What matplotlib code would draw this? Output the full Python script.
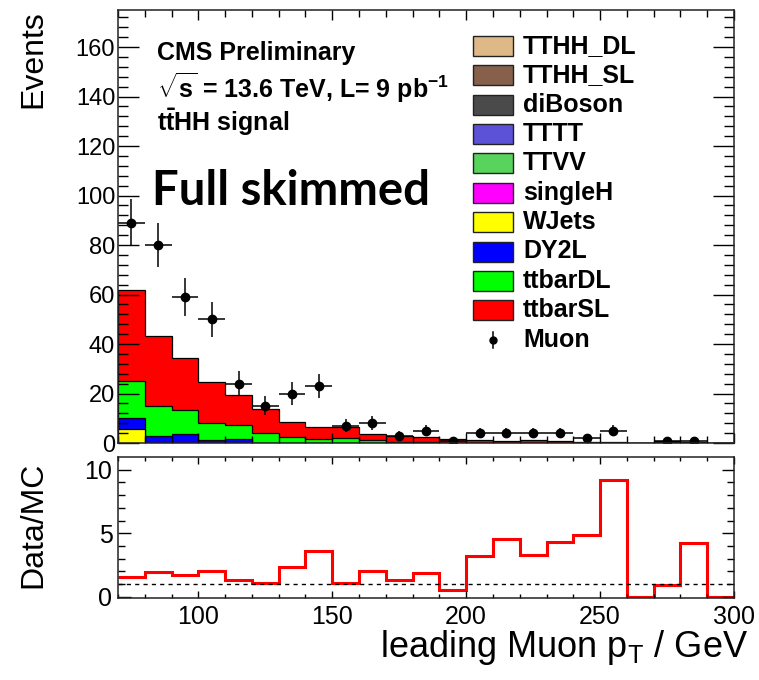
import matplotlib
matplotlib.use('Agg')
import matplotlib.pyplot as plt
import numpy as np
from matplotlib.patches import Rectangle
from matplotlib.lines import Line2D

plt.rcParams['font.family'] = ['Liberation Sans', 'DejaVu Sans']
plt.rcParams['mathtext.fontset'] = 'custom'
plt.rcParams['mathtext.rm'] = 'Liberation Sans'
plt.rcParams['mathtext.bf'] = 'Liberation Sans:bold'
plt.rcParams['mathtext.it'] = 'Liberation Sans:italic'

# leading muon pT bins, 10 GeV wide
bin_edges = list(range(70, 310, 10))
bin_centers = [e + 5 for e in bin_edges[:-1]]

# MC components (bottom -> top of the stack)
wjets = [5.8, 0, 0, 0, 0, 0, 0, 0, 0, 0, 0, 0, 0, 0, 0, 0, 0, 0, 0, 0, 0, 0, 0]
dy2l = [4.4, 2.8, 3.8, 1.3, 1.7, 0.2, 0, 0, 0, 0, 0, 0, 0, 0, 0, 0, 0, 0, 0, 0, 0.6, 0, 0]
ttbardl = [14.9, 12.1, 9.7, 6.9, 5.5, 3.8, 2.6, 1.5, 2.2, 1.1, 0.3, 0.3, 0.2,
           0.1, 0.1, 0.1, 0.1, 0.05, 0.05, 0, 0, 0, 0]
ttbarsl = [36.9, 28.3, 20.9, 16.3, 12.1, 9.6, 5.9, 5.1, 4.1, 2.5, 2.5, 2.3, 1.4,
           1.1, 0.8, 1.1, 0.8, 0.35, 0.45, 0.2, 0.4, 0.25, 0.1]

# data (Muon)
data = [89, 80, 59, 50, 24, 15, 20, 23, 7, 8, 3, 5, 1, 4, 4, 4, 4, 2, 5, 0, 1, 1, 0]

# Data/MC ratio
ratio = [1.56, 1.98, 1.74, 2.05, 1.35, 1.09, 2.37, 3.59, 1.12, 2.05, 1.35, 1.87,
         0.55, 3.17, 4.58, 3.25, 4.34, 4.84, 9.19, 0, 0.96, 4.24, 0]

legend_names = ['TTHH_DL', 'TTHH_SL', 'diBoson', 'TTTT', 'TTVV', 'singleH',
                'WJets', 'DY2L', 'ttbarDL', 'ttbarSL']
legend_colors = ['#deb887', '#86604b', '#4a4a4a', '#5b52d8', '#58d35b', '#ff00ff',
                 '#ffff00', '#0000ff', '#00ff00', '#ff0000']

W, H = 759, 680


def fx(x):
    return x / W


def fy(y):
    return 1 - y / H


fig = plt.figure(figsize=(W / 100, H / 100), dpi=100)
ax1 = fig.add_axes([fx(118), fy(443), fx(616), 433 / H])
ax2 = fig.add_axes([fx(118), fy(598), fx(616), 141 / H])

# stacked histogram, ROOT style: each cumulative drawn over the previous
stack = [wjets, dy2l, ttbardl, ttbarsl]
stack_colors = ['#ffff00', '#0000ff', '#00ff00', '#ff0000']
cum = np.cumsum(np.array(stack), axis=0)
for i in reversed(range(len(stack))):
    ax1.stairs(cum[i], bin_edges, baseline=0, fill=True, facecolor=stack_colors[i],
               linewidth=0)
    ax1.stairs(cum[i], bin_edges, baseline=0, color='black', linewidth=0.9)

d = np.array(data, dtype=float)
mask = d > 0
ax1.errorbar(np.array(bin_centers)[mask], d[mask], yerr=np.sqrt(d[mask]), xerr=5,
             fmt='o', color='black', markersize=6, elinewidth=1.1, capsize=0)

ax1.set_xlim(70, 300)
ax1.set_ylim(0, 175)
ax1.set_yticks(range(0, 161, 20))
ax1.set_yticks(np.arange(0, 176, 4), minor=True)
ax1.set_xticks(range(100, 301, 50))
ax1.set_xticks(range(70, 301, 10), minor=True)
ax1.tick_params(axis='both', which='both', direction='in', top=True, right=True)
ax1.tick_params(axis='y', which='major', length=15, width=1, labelsize=17, pad=2)
ax1.tick_params(axis='y', which='minor', length=7.5, width=1)
ax1.tick_params(axis='x', which='major', length=7, width=1, labelbottom=False)
ax1.tick_params(axis='x', which='minor', length=5, width=1)

# ratio panel
ax2.stairs(ratio, bin_edges, baseline=None, color='#ff0000', linewidth=2.2)
ax2.axhline(1, color='black', linestyle=(0, (3, 3)), linewidth=1)
ax2.set_xlim(70, 300)
ax2.set_ylim(-0.1, 11)
ax2.set_yticks([0, 5, 10])
ax2.set_yticks(range(0, 11), minor=True)
ax2.set_xticks(range(100, 301, 50))
ax2.set_xticks(range(70, 301, 10), minor=True)
ax2.tick_params(axis='both', which='both', direction='in', top=True, right=True)
ax2.tick_params(axis='y', which='major', length=9, width=1, labelsize=18, pad=4)
ax2.tick_params(axis='y', which='minor', length=5, width=1)
ax2.tick_params(axis='x', which='major', length=5, width=1, labelsize=18, pad=5)
ax2.tick_params(axis='x', which='minor', length=3, width=1)

for ax in (ax1, ax2):
    for s in ax.spines.values():
        s.set_linewidth(1.1)
        s.set_color('#222222')

# axis titles
fig.text(fx(33), fy(10), 'Events', rotation=90, ha='center', va='top', fontsize=23)
fig.text(fx(33), fy(525), 'Data/MC', rotation=90, ha='center', va='center', fontsize=23)
fig.text(fx(748), fy(657), r'leading Muon p$_{\mathrm{T}}$ / GeV', ha='right',
         va='baseline', fontsize=26)

# labels
fig.text(fx(157), fy(60), 'CMS Preliminary', fontsize=18, fontweight='bold', va='baseline')
fig.text(fx(157), fy(98), r'$\mathbf{\sqrt{s}}$ = 13.6 TeV, L= 9 pb$^{\mathbf{-1}}$',
         fontsize=18, fontweight='bold', va='baseline')
fig.text(fx(157), fy(131), r'$\mathbf{t\bar{t}}$HH signal', fontsize=18,
         fontweight='bold', va='baseline')
fig.text(fx(152), fy(205), 'Full skimmed', fontsize=34, fontweight='bold',
         family=['Lato', 'DejaVu Sans'], va='baseline')

# legend
row_y = [45.7 + 29.4 * k for k in range(11)]
for k, (name, col) in enumerate(zip(legend_names, legend_colors)):
    fig.patches.append(Rectangle((fx(473), fy(row_y[k] + 10)), 40 / W, 20 / H,
                                 transform=fig.transFigure, facecolor=col,
                                 edgecolor='#222222', linewidth=1))
    fig.text(fx(523), fy(row_y[k]), name, fontsize=18, fontweight='bold', va='center')
fig.lines.append(Line2D([fx(493), fx(493)], [fy(row_y[10] - 8), fy(row_y[10] + 8)],
                        transform=fig.transFigure, color='black', linewidth=1.1))
fig.lines.append(Line2D([fx(493)], [fy(row_y[10])], transform=fig.transFigure,
                        marker='o', markersize=5, color='black'))
fig.text(fx(523), fy(row_y[10]), 'Muon', fontsize=18, fontweight='bold', va='center')

fig.savefig('out.png', dpi=100)
